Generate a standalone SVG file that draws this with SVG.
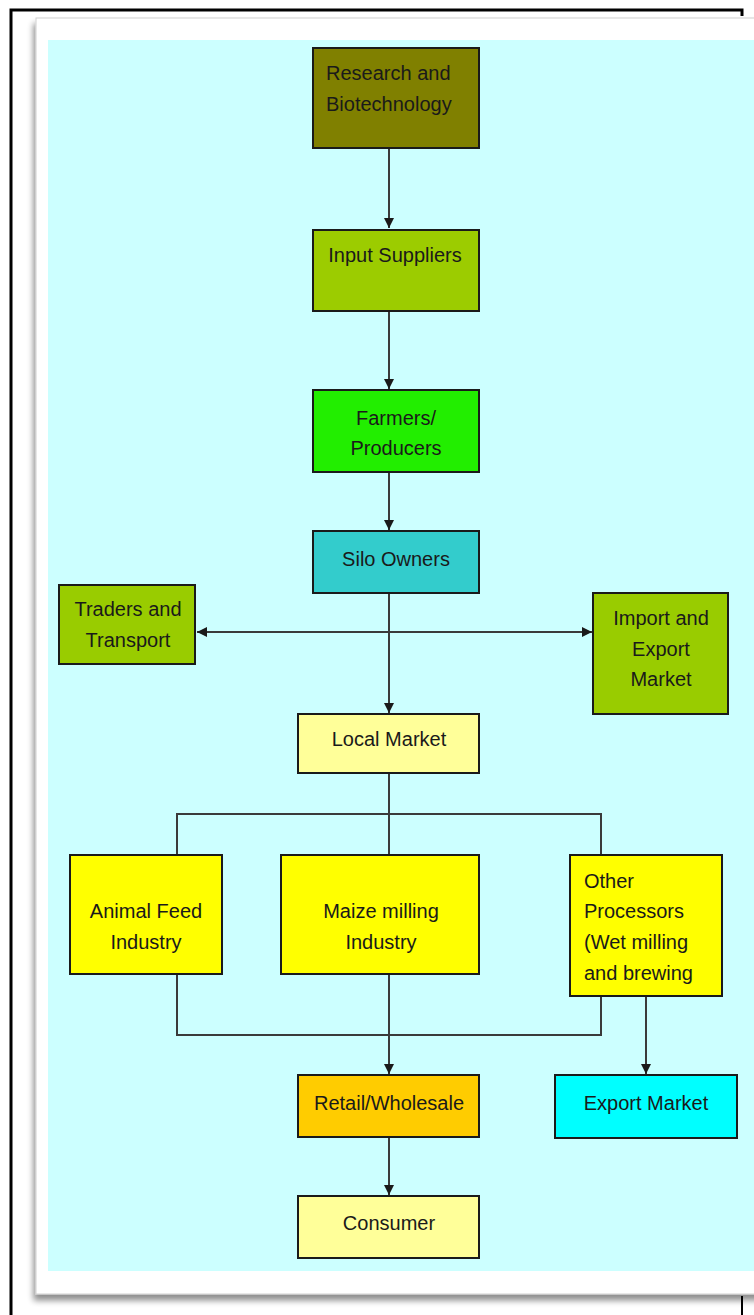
<svg xmlns="http://www.w3.org/2000/svg" width="754" height="1315" viewBox="0 0 754 1315">
  <style>
    .box { stroke: #1a1a1a; stroke-width: 2; }
    .lbl { font-family: "Liberation Sans", Arial, sans-serif; font-size: 20px; fill: #1a1a1a; }
    .c { text-anchor: middle; }
    .wire { fill: none; stroke: #3a3a3a; stroke-width: 2; }
  </style>
  <defs>
    <marker id="arrow" viewBox="0 0 10 10" refX="10" refY="5" markerWidth="5" markerHeight="6" orient="auto-start-reverse" markerUnits="strokeWidth">
      <path d="M0,0 L10,5 L0,10 Z" fill="#1a1a1a"/>
    </marker>
    <filter id="panelShadow" x="-5%" y="-5%" width="110%" height="110%">
      <feGaussianBlur in="SourceAlpha" stdDeviation="3"/>
      <feOffset dx="-2" dy="6"/>
      <feComponentTransfer><feFuncA type="linear" slope="0.45"/></feComponentTransfer>
      <feMerge><feMergeNode/><feMergeNode in="SourceGraphic"/></feMerge>
    </filter>
  </defs>

  <!-- page background and frame -->
  <rect x="0" y="0" width="754" height="1315" fill="#ffffff"/>
  <polyline points="742,16 742,10 11,10 11,1315" fill="none" stroke="#000" stroke-width="3"/>
  <line x1="742" y1="1296" x2="742" y2="1315" stroke="#000" stroke-width="2"/>

  <!-- white sheet with shadow, cyan canvas -->
  <rect x="36" y="18" width="730" height="1276" fill="#ffffff" stroke="#d0d0d0" stroke-width="1" filter="url(#panelShadow)"/>
  <rect x="48" y="40" width="710" height="1231" fill="#ccffff"/>

  <!-- connectors -->
  <g id="connectors" class="wire">
    <line x1="389" y1="148" x2="389" y2="228" marker-end="url(#arrow)"/>
    <line x1="389" y1="311" x2="389" y2="389" marker-end="url(#arrow)"/>
    <line x1="389" y1="472" x2="389" y2="530" marker-end="url(#arrow)"/>
    <line x1="389" y1="593" x2="389" y2="713" marker-end="url(#arrow)"/>
    <line x1="197" y1="632" x2="592" y2="632" marker-start="url(#arrow)" marker-end="url(#arrow)"/>
    <line x1="389" y1="773" x2="389" y2="855"/>
    <polyline points="177,855 177,814 601,814 601,855"/>
    <polyline points="177,974 177,1035 601,1035 601,996"/>
    <line x1="389" y1="974" x2="389" y2="1074" marker-end="url(#arrow)"/>
    <line x1="389" y1="1137" x2="389" y2="1195" marker-end="url(#arrow)"/>
    <line x1="646" y1="996" x2="646" y2="1074" marker-end="url(#arrow)"/>
  </g>

  <!-- nodes -->
  <g id="research">
    <rect class="box" x="313" y="48" width="166" height="100" fill="#808000"/>
    <text class="lbl" x="326" y="80">Research and</text>
    <text class="lbl" x="326" y="111">Biotechnology</text>
  </g>
  <g id="input-suppliers">
    <rect class="box" x="313" y="230" width="166" height="81" fill="#9ccc00"/>
    <text class="lbl c" x="395" y="262">Input Suppliers</text>
  </g>
  <g id="farmers">
    <rect class="box" x="313" y="390" width="166" height="82" fill="#22ee00"/>
    <text class="lbl c" x="396" y="425">Farmers/</text>
    <text class="lbl c" x="396" y="455">Producers</text>
  </g>
  <g id="silo-owners">
    <rect class="box" x="313" y="531" width="166" height="62" fill="#33cccc"/>
    <text class="lbl c" x="396" y="566">Silo Owners</text>
  </g>
  <g id="traders">
    <rect class="box" x="59" y="585" width="136" height="79" fill="#99cc00"/>
    <text class="lbl c" x="128" y="616">Traders and</text>
    <text class="lbl c" x="128" y="647">Transport</text>
  </g>
  <g id="import-export">
    <rect class="box" x="593" y="593" width="135" height="121" fill="#99cc00"/>
    <text class="lbl c" x="661" y="625">Import and</text>
    <text class="lbl c" x="661" y="656">Export</text>
    <text class="lbl c" x="661" y="686">Market</text>
  </g>
  <g id="local-market">
    <rect class="box" x="298" y="714" width="181" height="59" fill="#ffff99"/>
    <text class="lbl c" x="389" y="746">Local Market</text>
  </g>
  <g id="animal-feed">
    <rect class="box" x="70" y="855" width="152" height="119" fill="#ffff00"/>
    <text class="lbl c" x="146" y="918">Animal Feed</text>
    <text class="lbl c" x="146" y="949">Industry</text>
  </g>
  <g id="maize-milling">
    <rect class="box" x="281" y="855" width="198" height="119" fill="#ffff00"/>
    <text class="lbl c" x="381" y="918">Maize milling</text>
    <text class="lbl c" x="381" y="949">Industry</text>
  </g>
  <g id="other-processors">
    <rect class="box" x="570" y="855" width="152" height="141" fill="#ffff00"/>
    <text class="lbl" x="584" y="888">Other</text>
    <text class="lbl" x="584" y="918">Processors</text>
    <text class="lbl" x="584" y="949">(Wet milling</text>
    <text class="lbl" x="584" y="980">and brewing</text>
  </g>
  <g id="retail">
    <rect class="box" x="298" y="1075" width="181" height="62" fill="#ffcc00"/>
    <text class="lbl c" x="389" y="1110">Retail/Wholesale</text>
  </g>
  <g id="export-market">
    <rect class="box" x="555" y="1075" width="182" height="63" fill="#00ffff"/>
    <text class="lbl c" x="646" y="1110">Export Market</text>
  </g>
  <g id="consumer">
    <rect class="box" x="298" y="1196" width="181" height="62" fill="#ffff99"/>
    <text class="lbl c" x="389" y="1230">Consumer</text>
  </g>
</svg>
